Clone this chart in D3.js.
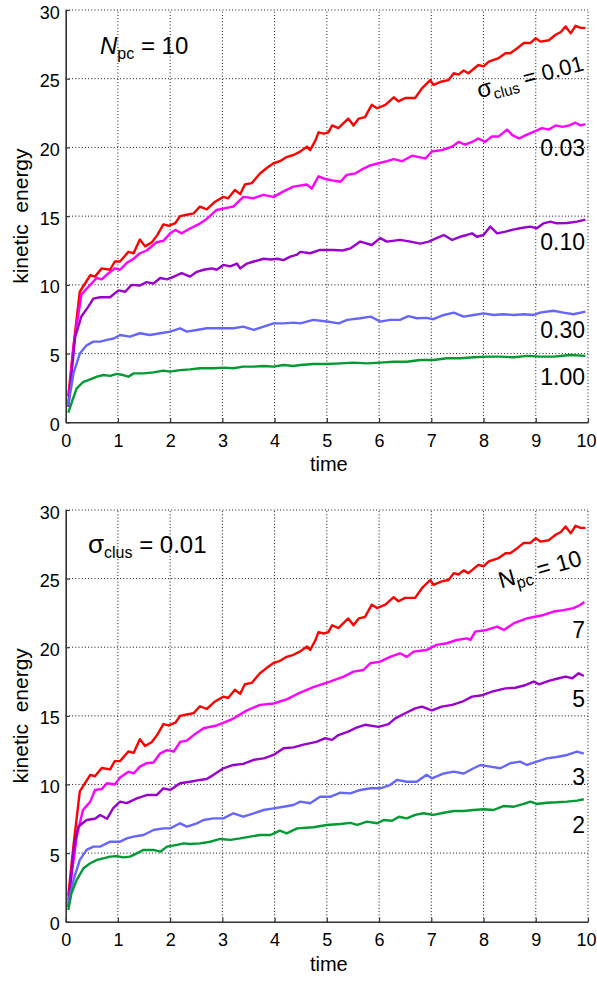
<!DOCTYPE html>
<html>
<head>
<meta charset="utf-8">
<script src="https://cdn.jsdelivr.net/npm/d3@7"></script>
<style>
  body { margin: 0; background: #fff; }
  svg { display: block; }
  text { font-family: "Liberation Sans", Arial, Helvetica, sans-serif; fill: #000; }
</style>
</head>
<body>
<svg id="fig" width="597" height="981"></svg>
<script>
// Kinetic energy vs. time, [t, E] pairs.
// N_pc = 10, sigma_clus = 0.01 (appears in both panels)
const run10_001 = [[0.05,1.9],[0.15,5.6],[0.27,9.5],[0.37,10.1],[0.47,10.7],[0.56,10.6],[0.69,11.2],[0.85,11.1],[0.94,11.7],[1.04,11.7],[1.2,12.4],[1.3,12.3],[1.42,13.3],[1.52,12.8],[1.65,13.1],[1.75,13.6],[1.87,14.4],[1.97,14.3],[2.1,14.5],[2.19,15.0],[2.32,15.1],[2.45,15.2],[2.57,15.7],[2.7,15.5],[2.86,16.05],[3.02,16.4],[3.11,16.3],[3.24,16.9],[3.34,16.6],[3.43,17.3],[3.56,17.4],[3.72,18.1],[3.85,18.5],[3.98,18.85],[4.1,19.0],[4.23,19.3],[4.36,19.45],[4.49,19.7],[4.62,20.06],[4.68,19.8],[4.78,20.5],[4.84,21.1],[4.94,21.0],[5.03,21.1],[5.1,21.6],[5.22,21.4],[5.41,22.1],[5.51,21.6],[5.61,22.1],[5.73,22.2],[5.86,23.1],[5.96,22.85],[6.12,23.1],[6.28,23.65],[6.37,23.35],[6.5,23.6],[6.69,23.6],[6.82,24.3],[6.98,24.9],[7.04,24.55],[7.2,24.8],[7.33,24.9],[7.43,25.4],[7.52,25.3],[7.62,25.6],[7.71,25.4],[7.9,26.0],[8.0,25.9],[8.1,26.25],[8.29,26.5],[8.42,26.85],[8.51,26.85],[8.64,27.2],[8.77,27.6],[8.9,27.6],[9.0,27.95],[9.09,27.7],[9.25,27.8],[9.38,28.2],[9.48,28.4],[9.57,28.8],[9.67,28.3],[9.76,28.85],[9.86,28.7],[9.95,28.7]];

// N_pc = 10, varying sigma_clus
const run10_003 = [[0.05,1.4],[0.15,5.5],[0.3,9.3],[0.47,10.0],[0.59,10.5],[0.69,10.4],[0.82,10.85],[0.94,11.2],[1.04,11.1],[1.17,11.6],[1.3,11.9],[1.42,12.3],[1.55,12.5],[1.74,13.1],[1.87,13.2],[2.0,13.75],[2.1,14.0],[2.22,13.75],[2.38,14.1],[2.54,14.4],[2.7,14.8],[2.89,15.45],[3.08,15.6],[3.21,15.7],[3.4,16.4],[3.59,16.3],[3.78,16.55],[3.98,16.4],[4.17,16.8],[4.36,17.15],[4.62,17.3],[4.71,17.0],[4.84,17.9],[4.97,17.7],[5.1,17.6],[5.26,17.5],[5.38,18.0],[5.54,18.1],[5.67,18.4],[5.83,18.7],[5.99,18.85],[6.15,19.0],[6.28,19.15],[6.44,19.0],[6.63,19.4],[6.76,19.3],[6.89,19.2],[7.01,19.7],[7.2,19.8],[7.4,20.06],[7.52,20.4],[7.65,20.2],[7.78,20.4],[7.9,20.65],[8.03,20.4],[8.16,20.8],[8.29,20.8],[8.45,21.3],[8.55,20.9],[8.68,20.65],[8.81,20.9],[9.0,21.2],[9.12,21.4],[9.25,21.3],[9.38,21.6],[9.51,21.5],[9.64,21.6],[9.76,21.8],[9.86,21.6],[9.95,21.7]];
const run10_010 = [[0.05,1.13],[0.18,6.2],[0.3,7.7],[0.43,8.4],[0.53,9.0],[0.66,9.1],[0.85,9.1],[1.01,9.6],[1.14,9.5],[1.26,10.0],[1.42,9.95],[1.55,10.2],[1.68,10.1],[1.81,10.5],[1.94,10.4],[2.07,10.6],[2.22,10.85],[2.38,10.6],[2.51,10.95],[2.64,11.1],[2.8,11.2],[2.89,11.1],[3.02,11.45],[3.15,11.35],[3.28,11.55],[3.34,11.2],[3.47,11.55],[3.6,11.7],[3.79,11.9],[3.92,11.85],[4.05,11.9],[4.17,11.8],[4.3,12.05],[4.43,12.2],[4.49,12.4],[4.68,12.3],[4.87,12.54],[5.13,12.54],[5.3,12.5],[5.45,12.65],[5.64,13.15],[5.86,12.9],[6.02,13.4],[6.15,13.15],[6.4,13.27],[6.6,13.15],[6.79,13.0],[6.95,13.15],[7.1,13.4],[7.24,13.63],[7.4,13.27],[7.55,13.5],[7.68,13.63],[7.78,13.75],[7.87,13.5],[8.0,13.63],[8.13,14.24],[8.26,13.75],[8.42,13.87],[8.54,14.0],[8.7,14.12],[8.89,14.24],[9.02,14.12],[9.15,14.48],[9.28,14.6],[9.4,14.48],[9.6,14.5],[9.79,14.6],[9.95,14.75]];
const run10_030 = [[0.05,1.26],[0.15,3.57],[0.27,5.0],[0.4,5.6],[0.53,5.87],[0.66,5.87],[0.79,6.0],[0.92,6.1],[1.04,6.35],[1.23,6.23],[1.42,6.48],[1.61,6.35],[1.81,6.48],[2.0,6.6],[2.19,6.84],[2.32,6.6],[2.51,6.72],[2.7,6.84],[2.96,6.84],[3.21,6.84],[3.4,6.96],[3.6,6.72],[3.79,6.96],[3.98,7.2],[4.17,7.2],[4.36,7.25],[4.49,7.2],[4.74,7.45],[5.0,7.33],[5.23,7.2],[5.39,7.45],[5.64,7.57],[5.84,7.69],[6.02,7.33],[6.21,7.45],[6.4,7.45],[6.56,7.72],[6.72,7.57],[6.91,7.6],[7.04,7.5],[7.24,7.81],[7.43,7.98],[7.62,7.69],[7.81,7.81],[8.0,7.93],[8.19,7.81],[8.38,7.86],[8.58,7.81],[8.77,7.86],[8.96,7.81],[9.08,7.98],[9.34,8.12],[9.53,7.98],[9.72,7.86],[9.95,8.05]];
const run10_100 = [[0.05,0.7],[0.13,1.62],[0.21,2.47],[0.34,2.95],[0.47,3.13],[0.6,3.32],[0.72,3.44],[0.85,3.38],[0.98,3.52],[1.1,3.44],[1.2,3.32],[1.3,3.56],[1.49,3.56],[1.68,3.63],[1.87,3.76],[2.0,3.69],[2.19,3.8],[2.38,3.85],[2.57,3.93],[2.83,3.93],[3.02,3.98],[3.21,3.93],[3.4,4.05],[3.6,4.05],[3.79,4.1],[3.98,4.05],[4.17,4.17],[4.36,4.1],[4.49,4.17],[4.74,4.24],[5.0,4.24],[5.26,4.29],[5.51,4.34],[5.77,4.29],[6.02,4.34],[6.28,4.41],[6.53,4.41],[6.79,4.53],[7.04,4.53],[7.3,4.66],[7.55,4.66],[7.81,4.73],[8.07,4.78],[8.32,4.78],[8.58,4.73],[8.84,4.83],[9.09,4.78],[9.34,4.78],[9.66,4.9],[9.95,4.83]];

// sigma_clus = 0.01, varying N_pc
const run7_001 = [[0.05,1.58],[0.21,6.2],[0.33,8.14],[0.47,8.75],[0.56,9.6],[0.69,9.67],[0.79,10.09],[0.94,10.0],[1.04,10.5],[1.2,10.93],[1.3,10.8],[1.42,11.3],[1.55,11.55],[1.68,11.6],[1.81,12.27],[1.94,12.5],[2.07,12.4],[2.19,13.1],[2.32,13.2],[2.45,13.6],[2.64,14.1],[2.89,14.3],[3.05,14.55],[3.21,14.8],[3.47,15.4],[3.72,15.8],[3.98,15.9],[4.23,16.2],[4.49,16.7],[4.74,17.1],[5.06,17.5],[5.32,17.86],[5.51,18.22],[5.7,18.34],[5.83,18.83],[6.02,18.95],[6.21,19.3],[6.4,19.56],[6.53,19.3],[6.66,19.68],[6.91,19.8],[7.1,20.17],[7.3,20.29],[7.49,20.53],[7.68,20.65],[7.75,20.53],[7.84,21.14],[8.06,21.26],[8.26,21.5],[8.39,21.26],[8.58,21.75],[8.83,22.1],[8.96,22.2],[9.15,22.35],[9.34,22.6],[9.53,22.7],[9.72,22.85],[9.85,23.08],[9.93,23.3]];
const run5_001 = [[0.05,1.09],[0.15,5.2],[0.24,6.92],[0.4,7.41],[0.56,7.5],[0.66,7.78],[0.79,7.5],[0.91,8.27],[1.04,8.75],[1.17,8.64],[1.36,8.99],[1.55,9.23],[1.74,9.23],[1.87,9.72],[2.0,9.6],[2.19,10.09],[2.38,10.2],[2.57,10.33],[2.7,10.4],[2.83,10.7],[3.02,11.18],[3.21,11.42],[3.4,11.5],[3.6,11.8],[3.79,11.9],[3.98,12.15],[4.17,12.64],[4.36,12.7],[4.55,12.9],[4.8,13.1],[4.97,13.37],[5.1,13.25],[5.22,13.6],[5.41,13.85],[5.54,14.1],[5.73,14.35],[5.99,14.2],[6.18,14.4],[6.31,14.82],[6.5,15.19],[6.69,15.55],[6.82,15.67],[7.01,15.4],[7.2,15.67],[7.4,15.8],[7.59,16.03],[7.78,16.4],[7.97,16.5],[8.16,16.76],[8.42,17.0],[8.61,17.05],[8.81,17.25],[8.96,17.5],[9.06,17.3],[9.25,17.55],[9.44,17.74],[9.57,17.86],[9.7,17.74],[9.82,18.1],[9.92,17.9]];
const run3_001 = [[0.05,1.34],[0.15,3.04],[0.27,4.5],[0.4,5.23],[0.53,5.47],[0.66,5.47],[0.85,5.83],[1.04,5.83],[1.17,6.07],[1.3,6.2],[1.49,6.32],[1.68,6.68],[1.87,6.8],[2.0,6.8],[2.19,7.17],[2.32,6.93],[2.51,7.17],[2.64,7.41],[2.83,7.53],[3.02,7.53],[3.21,7.9],[3.4,7.65],[3.6,7.9],[3.79,8.14],[3.98,8.26],[4.17,8.38],[4.36,8.5],[4.49,8.75],[4.68,8.63],[4.87,9.1],[5.06,9.1],[5.26,9.4],[5.45,9.35],[5.64,9.6],[5.84,9.72],[6.02,9.72],[6.21,9.96],[6.34,10.33],[6.53,10.2],[6.72,10.2],[6.91,10.7],[7.01,10.45],[7.24,10.8],[7.43,10.94],[7.62,10.8],[7.81,11.18],[7.94,11.42],[8.13,11.3],[8.32,11.18],[8.51,11.55],[8.7,11.66],[8.83,11.42],[9.02,11.66],[9.21,11.9],[9.4,12.0],[9.6,12.15],[9.79,12.4],[9.92,12.25]];
const run2_001 = [[0.05,0.85],[0.11,2.07],[0.21,3.04],[0.34,3.89],[0.47,4.26],[0.6,4.5],[0.72,4.62],[0.85,4.74],[0.98,4.78],[1.1,4.69],[1.23,4.74],[1.36,4.98],[1.49,5.23],[1.68,5.23],[1.81,5.1],[1.94,5.47],[2.13,5.6],[2.26,5.71],[2.38,5.66],[2.57,5.71],[2.77,5.83],[2.96,6.03],[3.15,5.96],[3.34,6.07],[3.53,6.2],[3.72,6.32],[3.92,6.32],[4.1,6.63],[4.23,6.44],[4.43,6.8],[4.74,6.88],[5.0,7.05],[5.26,7.12],[5.45,7.2],[5.58,7.05],[5.77,7.29],[5.96,7.17],[6.09,7.41],[6.25,7.36],[6.38,7.65],[6.53,7.53],[6.69,7.78],[6.85,7.9],[7.04,7.78],[7.24,7.94],[7.43,8.07],[7.62,8.07],[7.81,8.14],[8.0,8.19],[8.19,8.14],[8.38,8.43],[8.58,8.38],[8.77,8.58],[8.9,8.75],[9.02,8.58],[9.21,8.67],[9.4,8.7],[9.6,8.75],[9.79,8.82],[9.92,8.92]];

const timeTicks = [0,1,2,3,4,5,6,7,8,9,10];
const energyTicks = [0,5,10,15,20,25,30];
const sigmaLabels = ["0.01","0.03","0.10","0.30","1.00"];
const npcLabels = ["10","7","5","3","2"];

const colors = ["#ff0000","#ff00ff","#9900cc","#6666ff","#009933"];

const svg = d3.select("#fig");
const fontFamily = '"Liberation Sans", Arial, Helvetica, sans-serif';
const pageWidth = 597;

const x = d3.scaleLinear().domain([0, 10]).range([65.7, 588]);

function panel(top, bottom, series, drawLabels, drawCorner) {
  const y = d3.scaleLinear().domain([0, 30]).range([bottom, top]);
  const g = svg.append("g");

  // dotted grid
  g.append("g").selectAll("line").data(timeTicks.slice(1)).join("line")
    .attr("x1", d => x(d)).attr("x2", d => x(d))
    .attr("y1", y(0)).attr("y2", y(30))
    .attr("stroke", "#111").attr("stroke-width", 1).attr("stroke-dasharray", "1,2.2");
  g.append("g").selectAll("line").data(energyTicks.slice(1)).join("line")
    .attr("x1", x(0)).attr("x2", x(10))
    .attr("y1", d => y(d)).attr("y2", d => y(d))
    .attr("stroke", "#111").attr("stroke-width", 1).attr("stroke-dasharray", "1,2.2");

  // curves
  const line = d3.line().x(d => x(d[0])).y(d => y(d[1]));
  g.append("g").selectAll("path").data(series).join("path")
    .attr("d", d => line(d))
    .attr("fill", "none")
    .attr("stroke", (d, i) => colors[i])
    .attr("stroke-width", 2.4)
    .attr("stroke-linejoin", "round");

  // axes
  const xAxis = d3.axisBottom(x).tickValues(timeTicks).tickSizeInner(-4).tickSizeOuter(0).tickPadding(11.5);
  const yAxis = d3.axisLeft(y).tickValues(energyTicks).tickSizeInner(-4).tickSizeOuter(0).tickPadding(6);
  const gx = g.append("g").attr("transform", `translate(0,${bottom})`).call(xAxis);
  const gy = g.append("g").attr("transform", `translate(${x(0)},0)`).call(yAxis);
  [gx, gy].forEach(a => {
    a.select(".domain").attr("stroke", "#333").attr("stroke-width", 1.6);
    a.selectAll(".tick line").attr("stroke", "#333").attr("stroke-width", 1.2);
    a.selectAll(".tick text").attr("font-size", 18).attr("font-family", fontFamily).attr("fill", "#000");
  });
  gy.selectAll(".tick text").attr("dy", "0.45em");
  // keep the last time label inside the page
  gx.selectAll(".tick text").filter(d => d === 10)
    .attr("text-anchor", "end").attr("x", pageWidth - 1 - x(10));

  // axis titles
  g.append("text").attr("x", (x(0) + x(10)) / 2 + 2).attr("y", bottom + 49)
    .attr("text-anchor", "middle").attr("font-size", 20).text("time");
  g.append("text")
    .attr("transform", `translate(27.5,${(top + bottom) / 2}) rotate(-90)`)
    .attr("text-anchor", "middle").attr("font-size", 21)
    .style("white-space", "pre").text("kinetic  energy");

  drawLabels(g, y);
  drawCorner(g);
}

// top: N_pc = 10, sigma_clus varies
panel(10, 422.3, [run10_001, run10_003, run10_010, run10_030, run10_100],
  (g, y) => {
    const t = g.append("text").attr("text-anchor", "end")
      .attr("transform", "translate(585,70) rotate(-15)");
    t.append("tspan").attr("font-size", 24).text("σ");
    t.append("tspan").attr("font-size", 15).attr("dy", 5).text("clus");
    t.append("tspan").attr("font-size", 22).attr("dy", -5).text(" = " + sigmaLabels[0]);
    const ys = [156, 250, 338, 385];
    sigmaLabels.slice(1).forEach((s, i) => {
      g.append("text").attr("x", 585).attr("y", ys[i]).attr("text-anchor", "end")
        .attr("font-size", 23).text(s);
    });
  },
  g => {
    const t = g.append("text").attr("x", 100).attr("y", 54);
    t.append("tspan").attr("font-size", 24).attr("font-style", "italic").text("N");
    t.append("tspan").attr("font-size", 16).attr("dy", 5).text("pc");
    t.append("tspan").attr("font-size", 24).attr("dy", -5).text(" = " + npcLabels[0]);
  });

// bottom: sigma_clus = 0.01, N_pc varies
panel(510, 921.7, [run10_001, run7_001, run5_001, run3_001, run2_001],
  (g, y) => {
    const t = g.append("text").attr("text-anchor", "end")
      .attr("transform", "translate(583,565) rotate(-16)");
    t.append("tspan").attr("font-size", 23).text("N");
    t.append("tspan").attr("font-size", 16).attr("dy", 5).text("pc");
    t.append("tspan").attr("font-size", 23).attr("dy", -5).text(" = " + npcLabels[0]);
    const ys = [638, 706.5, 785, 833];
    npcLabels.slice(1).forEach((s, i) => {
      g.append("text").attr("x", 585).attr("y", ys[i]).attr("text-anchor", "end")
        .attr("font-size", 23).text(s);
    });
  },
  g => {
    const t = g.append("text").attr("x", 88).attr("y", 553);
    t.append("tspan").attr("font-size", 26).text("σ");
    t.append("tspan").attr("font-size", 16).attr("dy", 5).text("clus");
    t.append("tspan").attr("font-size", 24).attr("dy", -5).text(" = " + sigmaLabels[0]);
  });
</script>
</body>
</html>
